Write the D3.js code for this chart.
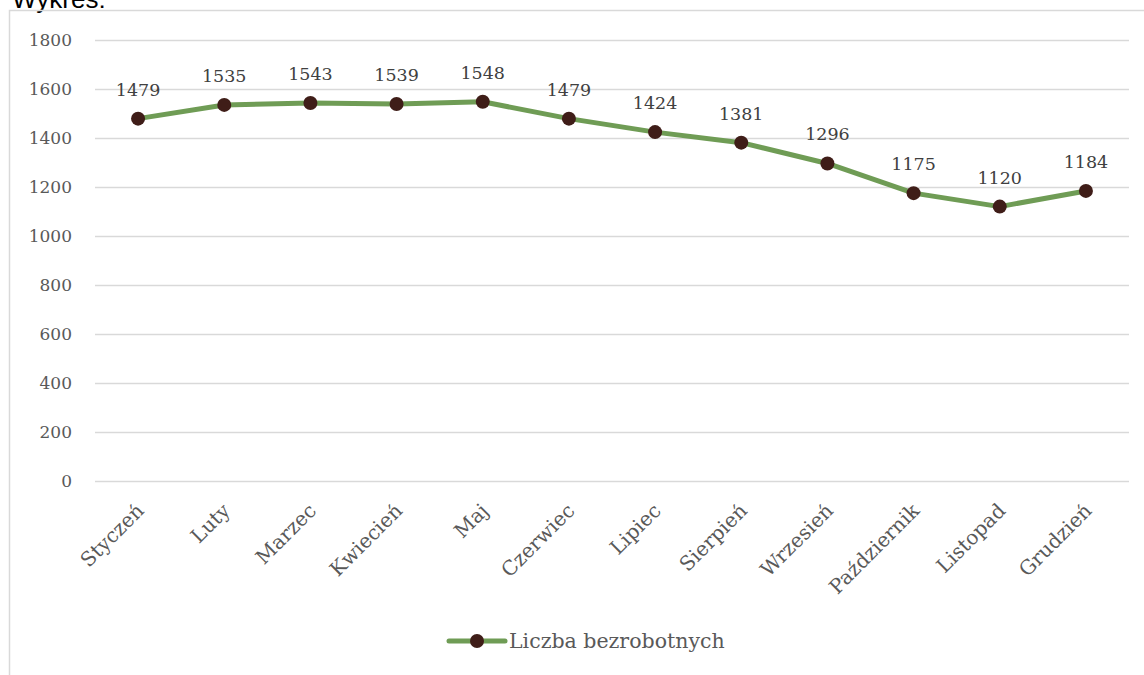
<!DOCTYPE html>
<html>
<head>
<meta charset="utf-8">
<script src="https://cdn.jsdelivr.net/npm/d3@7"></script>
<style>
  body { margin: 0; background: #fff; }
  svg { display: block; }
</style>
</head>
<body>
<div id="chart"></div>
<script>
// Chart data
var months = ["Styczeń", "Luty", "Marzec", "Kwiecień", "Maj", "Czerwiec", "Lipiec",
              "Sierpień", "Wrzesień", "Październik", "Listopad", "Grudzień"];
var unemployed = [1479, 1535, 1543, 1539, 1548, 1479, 1424, 1381, 1296, 1175, 1120, 1184];
var yTicks = [0, 200, 400, 600, 800, 1000, 1200, 1400, 1600, 1800];
var seriesName = "Liczba bezrobotnych";

var W = 1144, H = 675;
var margin = {top: 40, right: 15, bottom: 194, left: 95};
var width = W - margin.left - margin.right;
var height = H - margin.top - margin.bottom;

var font = "'DejaVu Serif', 'Liberation Serif', serif";
var lineColor = "#6f9c55";
var dotColor = "#3f1d18";

var root = d3.select("#chart").append("svg")
    .attr("width", W)
    .attr("height", H);

// caption cut off at the top
root.append("text")
    .attr("x", 12)
    .attr("y", 8)
    .style("font-family", "'Liberation Sans', Arial, sans-serif")
    .style("font-size", "26px")
    .style("fill", "#000")
    .text("Wykres:");

// chart frame
root.append("rect")
    .attr("x", 9.5)
    .attr("y", 10.5)
    .attr("width", W + 20)
    .attr("height", H + 20)
    .attr("fill", "none")
    .attr("stroke", "#d9d9d9")
    .attr("stroke-width", 1.5);

var svg = root.append("g")
    .attr("transform", "translate(" + margin.left + "," + margin.top + ")");

var x = d3.scaleBand().domain(months).range([0, width]);
var y = d3.scaleLinear().domain([0, 1800]).range([height, 0]);

// gridlines
svg.append("g")
    .selectAll("line")
    .data(yTicks)
    .enter()
    .append("line")
    .attr("x1", 0)
    .attr("x2", width)
    .attr("y1", function(d) { return Math.round(y(d)) + 0.5; })
    .attr("y2", function(d) { return Math.round(y(d)) + 0.5; })
    .attr("stroke", "#d9d9d9")
    .attr("stroke-width", 1.5);

// y axis
var yAxis = svg.append("g")
    .call(d3.axisLeft(y).tickValues(yTicks).tickFormat(d3.format("d")).tickSize(0).tickPadding(23));
yAxis.select(".domain").remove();
yAxis.selectAll("text")
    .style("font-family", font)
    .style("font-size", "17px")
    .style("fill", "#595959");

// x axis
var xAxis = svg.append("g")
    .attr("transform", "translate(0," + height + ")")
    .call(d3.axisBottom(x).tickSize(0).tickPadding(0));
xAxis.select(".domain").remove();
xAxis.selectAll("text")
    .style("font-family", font)
    .style("font-size", "20px")
    .style("fill", "#595959")
    .style("text-anchor", "end")
    .attr("dy", null)
    .attr("transform", "translate(7,31) rotate(-45)");

var cx = function(d, i) { return x(months[i]) + x.bandwidth() / 2; };

var line = d3.line()
    .x(function(d, i) { return cx(d, i); })
    .y(function(d) { return y(d); });

svg.append("path")
    .datum(unemployed)
    .attr("d", line)
    .attr("fill", "none")
    .attr("stroke", lineColor)
    .attr("stroke-width", 5)
    .attr("stroke-linejoin", "round");

svg.append("g")
    .selectAll("circle")
    .data(unemployed)
    .enter()
    .append("circle")
    .attr("cx", cx)
    .attr("cy", function(d) { return y(d); })
    .attr("r", 7)
    .attr("fill", dotColor);

// value labels
svg.append("g")
    .selectAll("text")
    .data(unemployed)
    .enter()
    .append("text")
    .attr("x", cx)
    .attr("y", function(d) { return y(d) - 23; })
    .attr("text-anchor", "middle")
    .style("font-family", font)
    .style("font-size", "17.5px")
    .style("fill", "#404040")
    .text(function(d) { return d; });

// legend
var legend = root.append("g")
    .attr("transform", "translate(449,641)");
legend.append("line")
    .attr("x1", 0)
    .attr("x2", 56)
    .attr("stroke", lineColor)
    .attr("stroke-width", 5)
    .attr("stroke-linecap", "round");
legend.append("circle")
    .attr("cx", 28)
    .attr("r", 7)
    .attr("fill", dotColor);
legend.append("text")
    .attr("x", 60)
    .attr("dy", "0.35em")
    .style("font-family", font)
    .style("font-size", "20.5px")
    .style("fill", "#595959")
    .text(seriesName);
</script>
</body>
</html>
